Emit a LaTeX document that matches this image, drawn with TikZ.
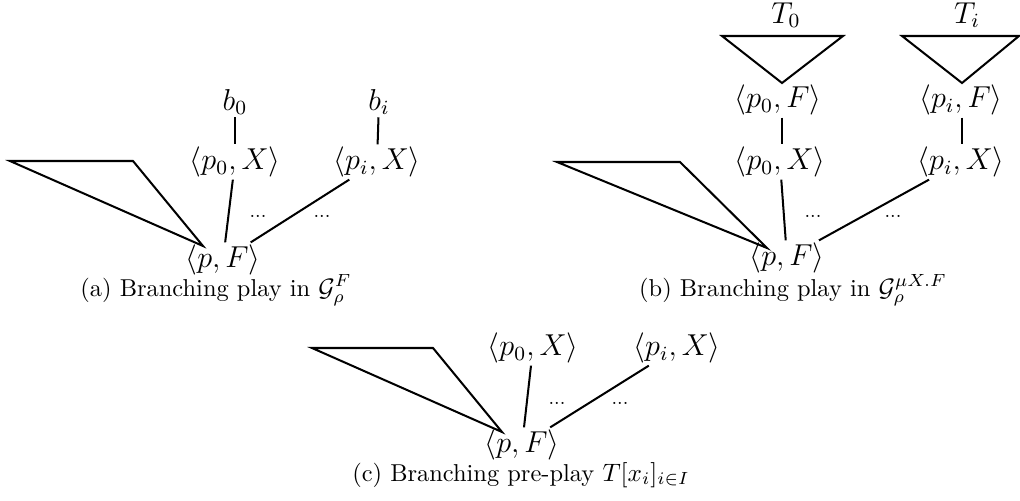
\documentclass[tikz,border=0pt]{standalone}
\begin{document}
\begin{tikzpicture}[x=0.397pt,y=-0.397pt,
  st/.style={font=\large, inner sep=0.8pt},
  captext/.style={font=\fontsize{9.7}{11}\selectfont, anchor=base, inner sep=0pt},
  dt/.style={font=\fontsize{7.5}{9}\selectfont, inner sep=0pt},
  ln/.style={line width=0.8pt},
  tri/.style={line width=0.8pt, line join=miter}]
\useasboundingbox (0,0) rectangle (1020,500);
% ---------- (a) ----------
\node[st] (pFa) at (223,260) {$\langle p,F\rangle$};
\node[st] (p0Xa) at (235,162) {$\langle p_0,X\rangle$};
\node[st] (piXa) at (377,162) {$\langle p_i,X\rangle$};
\node[st] (b0) at (235,102) {$b_0$};
\node[st] (bi) at (379,102) {$b_i$};
\node[dt] (da1) at (258,216) {...};
\node[dt] (da2) at (322,216) {...};
\coordinate (ta1) at (10,161);
\coordinate (ta2) at (133,161);
\coordinate (ta3) at (203,246);
\draw[tri] (ta1) -- (ta2) -- (ta3) -- cycle;
\draw[ln] (pFa) -- (p0Xa);
\draw[ln] (pFa) -- (piXa);
\draw[ln] (b0) -- (p0Xa);
\draw[ln] (bi) -- (piXa);
\node[captext] (capa) at (216,296) {(a) Branching play in $\mathcal{G}_\rho^F$};
% ---------- (b) ----------
\node[st] (pFb) at (787,258) {$\langle p,F\rangle$};
\node[st] (p0Xb) at (780,162) {$\langle p_0,X\rangle$};
\node[st] (piXb) at (961,162) {$\langle p_i,X\rangle$};
\node[st] (p0Fb) at (778,100) {$\langle p_0,F\rangle$};
\node[st] (piFb) at (961,100) {$\langle p_i,F\rangle$};
\node[st] (T0) at (786,15) {$T_0$};
\node[st] (Ti) at (967,15) {$T_i$};
\node[dt] (db1) at (813,216) {...};
\node[dt] (db2) at (893,216) {...};
\coordinate (tb1) at (557,162);
\coordinate (tb2) at (680,162);
\coordinate (tb3) at (767,248);
\draw[tri] (tb1) -- (tb2) -- (tb3) -- cycle;
\coordinate (t01) at (722,36);
\coordinate (t02) at (843,36);
\coordinate (t03) at (782,83);
\draw[tri] (t01) -- (t02) -- (t03) -- cycle;
\coordinate (ti1) at (902,36);
\coordinate (ti2) at (1019,36);
\coordinate (ti3) at (962,83);
\draw[tri] (ti1) -- (ti2) -- (ti3) -- cycle;
\draw[ln] (p0Fb.south -| t03) -- (p0Xb.north -| t03);
\draw[ln] (piFb.south -| ti3) -- (piXb.north -| ti3);
\draw[ln] (pFb) -- (p0Xb);
\draw[ln] (pFb) -- (piXb);
\node[captext] (capb) at (793,296) {(b) Branching play in $\mathcal{G}_\rho^{\mu X.F}$};
% ---------- (c) ----------
\node[st] (pFc) at (522,445) {$\langle p,F\rangle$};
\node[st] (p0Xc) at (533,348) {$\langle p_0,X\rangle$};
\node[st] (piXc) at (677,348) {$\langle p_i,X\rangle$};
\node[dt] (dc1) at (557,403) {...};
\node[dt] (dc2) at (620,403) {...};
\coordinate (tc1) at (312,348);
\coordinate (tc2) at (433,348);
\coordinate (tc3) at (502,432);
\draw[tri] (tc1) -- (tc2) -- (tc3) -- cycle;
\draw[ln] (pFc) -- (p0Xc);
\draw[ln] (pFc) -- (piXc);
\node[captext] (capc) at (521,481) {(c) Branching pre-play $T[x_i]_{i\in I}$};
\end{tikzpicture}
\end{document}
